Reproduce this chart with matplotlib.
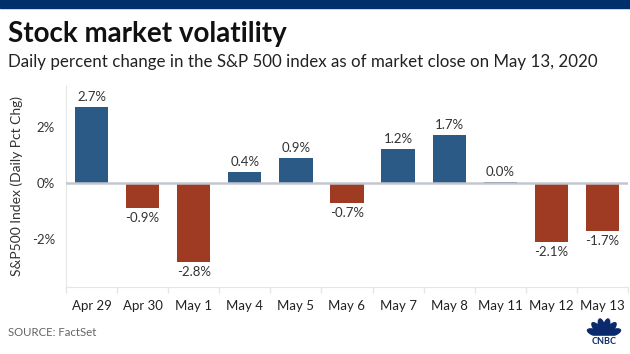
import matplotlib
matplotlib.use("Agg")
import matplotlib.pyplot as plt
from matplotlib.patches import Ellipse, Rectangle
import numpy as np

categories = ["Apr 29", "Apr 30", "May 1", "May 4", "May 5", "May 6", "May 7",
              "May 8", "May 11", "May 12", "May 13"]
values = [2.7, -0.9, -2.8, 0.4, 0.9, -0.7, 1.2, 1.7, 0.04, -2.1, -1.7]
labels = ["2.7%", "-0.9%", "-2.8%", "0.4%", "0.9%", "-0.7%", "1.2%", "1.7%",
          "0.0%", "-2.1%", "-1.7%"]
yticks = [-2, 0, 2]
yticklabels = ["-2%", "0%", "2%"]

BLUE = "#2b5a87"
RED = "#9e3b22"
FONT = ["Lato", "DejaVu Sans"]
plt.rcParams['font.family'] = FONT

W, H = 630, 354
fig = plt.figure(figsize=(W / 100, H / 100), dpi=100)
fig.patch.set_facecolor("white")

# top navy band
fig.add_artist(Rectangle((0, 1 - 8 / H), 1, 8 / H, transform=fig.transFigure,
                         color="#00306b", zorder=0))

ax = fig.add_axes([66 / W, 1 - 287 / H, (628 - 66) / W, (287 - 85) / H])
x = np.arange(len(categories))
colors = [BLUE if v >= 0 else RED for v in values]
ax.bar(x, values, width=0.65, color=colors, zorder=2)
ax.axhline(0, color="#c3c7cc", lw=1.8, zorder=3)

for xi, v, lab in zip(x, values, labels):
    if v >= 0:
        ax.annotate(lab, (xi, v), xytext=(0, 3), textcoords="offset points",
                    ha="center", va="bottom", fontsize=9.5, color="#333333")
    else:
        ax.annotate(lab, (xi, v), xytext=(0, -3), textcoords="offset points",
                    ha="center", va="top", fontsize=9.5, color="#333333")

ax.set_xlim(-0.48, len(categories) - 0.52)
ax.set_ylim(-3.71, 3.5)
ax.set_yticks(yticks)
ax.set_yticklabels(yticklabels)
ax.set_xticks(x)
ax.set_xticklabels(categories)
ax.set_xticks(np.arange(len(categories) + 1) - 0.5, minor=True)
ax.tick_params(axis="x", which="major", length=0, pad=9, labelsize=9.5,
               labelcolor="#222222")
ax.tick_params(axis="x", which="minor", length=4, color="#e6e6e6", width=1)
ax.tick_params(axis="y", length=0, pad=8, labelsize=9.5, labelcolor="#333333")
for s in ["top", "right"]:
    ax.spines[s].set_visible(False)
ax.spines["left"].set_color("#e6e6e6")
ax.spines["bottom"].set_color("#e6e6e6")
ax.set_ylabel("S&P500 Index (Daily Pct Chg)", fontsize=10, color="#333333",
              labelpad=6)

fig.text(8 / W, 1 - 34 / H, "Stock market volatility", fontsize=20,
         fontweight="bold", color="#111111", va="center", ha="left")
fig.text(8 / W, 1 - 62 / H,
         "Daily percent change in the S&P 500 index as of market close on May 13, 2020",
         fontsize=12.2, color="#222222", va="center", ha="left")
fig.text(8 / W, 1 - 333 / H, "SOURCE: FactSet", fontsize=8.2, color="#666666",
         va="center", ha="left")

# CNBC logo (simplified peacock)
lax = fig.add_axes([582 / W, 1 - 345 / H, 44 / W, 30 / H])
lax.set_xlim(0, 44)
lax.set_ylim(0, 30)
lax.axis("off")
cx, cy = 22, 9
NAVY = "#0a2a6b"
for ang in np.linspace(20, 160, 6):
    r = np.deg2rad(ang)
    ex, ey = cx + 9 * np.cos(r), cy + 9 * np.sin(r)
    lax.add_patch(Ellipse((ex, ey), 6.0, 17, angle=ang - 90, color=NAVY))
lax.add_patch(Rectangle((4, 5), 36, 4.5, color="white"))
lax.text(22, 3, "CNBC", ha="center", va="center", fontsize=6.5,
         fontweight="bold", color=NAVY)

fig.savefig("out.png", dpi=100, facecolor="white")
